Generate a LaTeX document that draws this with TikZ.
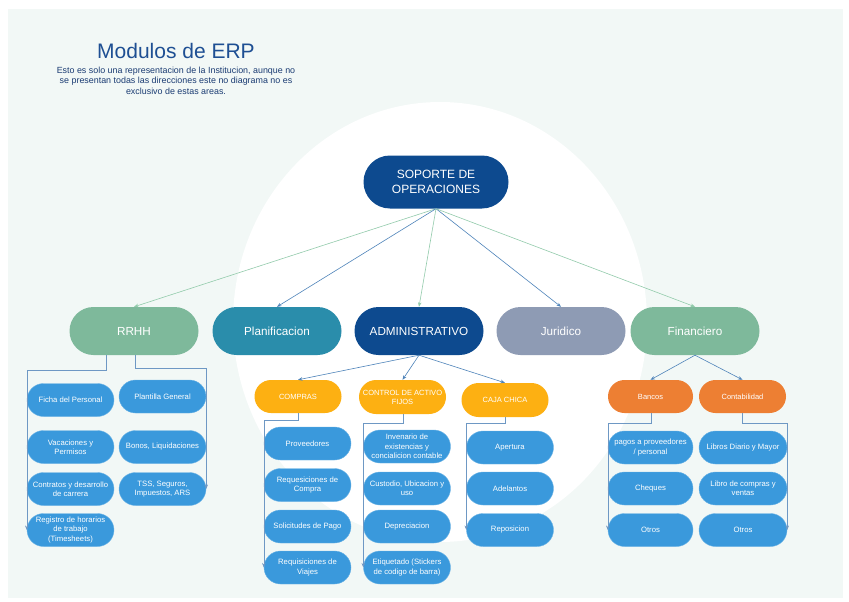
\documentclass[tikz,border=0pt]{standalone}
\usepackage{fontspec}
\setmainfont{Liberation Sans}
\usetikzlibrary{arrows.meta}

\definecolor{panel}{HTML}{F2F8F6}
\definecolor{navy}{HTML}{0D4A8F}
\definecolor{sage}{HTML}{7EB99B}
\definecolor{teal}{HTML}{2A8DAB}
\definecolor{slate}{HTML}{8E9BB4}
\definecolor{amber}{HTML}{FDB012}
\definecolor{orangec}{HTML}{ED7F33}
\definecolor{leafblue}{HTML}{3A99DC}
\definecolor{leafedge}{HTML}{6DB4E6}
\definecolor{linkblue}{HTML}{4F84BA}
\definecolor{linkgreen}{HTML}{92CBAB}
\definecolor{elbow}{HTML}{6E98C4}
\definecolor{titleblue}{HTML}{1E4F93}
\definecolor{subblue}{HTML}{1B3C73}

\tikzset{
  box/.style={rectangle, inner sep=0pt, align=center, text=white},
  head/.style={box, fill=navy, minimum width=145pt, minimum height=53pt,
    rounded corners=26.5pt, font=\fontsize{12}{15}\selectfont},
  area/.style={box, fill=#1, minimum width=129pt, minimum height=48pt,
    rounded corners=24pt, font=\fontsize{11.7}{13}\selectfont},
  sub/.style={box, fill=#1, minimum width=87pt, minimum height=33pt,
    rounded corners=16.5pt, font=\fontsize{7.5}{9}\selectfont},
  leaf/.style={box, fill=leafblue, draw=leafedge, line width=0.4pt,
    minimum width=87pt, minimum height=33pt, rounded corners=16.5pt,
    font=\fontsize{7.7}{9.3}\selectfont},
  tip/.style={-{Stealth[length=4.5pt,width=3.5pt]}},
  linkb/.style={tip, draw=linkblue, line width=0.6pt},
  linkg/.style={tip, draw=linkgreen, line width=0.6pt},
  elbowline/.style={-{Stealth[length=4.5pt,width=3.5pt]}, draw=elbow, line width=0.6pt},
}

\begin{document}
\begin{tikzpicture}[x=1pt,y=-1pt]
\useasboundingbox (0,0) rectangle (849,602);
\fill[white] (0,0) rectangle (849,602);
\fill[panel] (8,9) rectangle (843,598);
\fill[white] (440,322) ellipse[x radius=207, y radius=220];

% title block
\node[font=\fontsize{21}{24}\selectfont, text=titleblue] (title) at (176,51) {Modulos de ERP};
\node[font=\fontsize{8.9}{10.5}\selectfont, text=subblue, align=center] (note) at (176,80.5)
  {Esto es solo una representacion de la Institucion, aunque no\\
   se presentan todas las direcciones este no diagrama no es\\
   exclusivo de estas areas.};

% root
\node[head] (sop) at (436,182) {SOPORTE DE\\OPERACIONES};

% areas
\node[area=sage]  (rrhh)  at (134,331) {RRHH};
\node[area=teal]  (plan)  at (277,331) {Planificacion};
\node[area=navy]  (admin) at (419,331) {ADMINISTRATIVO};
\node[area=slate] (jur)   at (561,331) {Juridico};
\node[area=sage]  (fin)   at (695,331) {Financiero};

\draw[linkg] (sop.south) -- (rrhh.north);
\draw[linkb] (sop.south) -- (plan.north);
\draw[linkg] (sop.south) -- (admin.north);
\draw[linkb] (sop.south) -- (jur.north);
\draw[linkg] (sop.south) -- (fin.north);

% administrative and financial units
\node[sub=amber] (compras) at (298,396.5) {COMPRAS};
\node[sub=amber, minimum height=34pt, rounded corners=17pt] (control) at (402.5,397) {CONTROL DE ACTIVO\\FIJOS};
\node[sub=amber, minimum height=34pt, rounded corners=17pt] (caja) at (505,400) {CAJA CHICA};
\node[sub=orangec, minimum width=85pt] (bancos) at (650.5,396.5) {Bancos};
\node[sub=orangec] (contab) at (742.5,396.5) {Contabilidad};

\draw[linkb] (admin.south) -- (compras.north);
\draw[linkb] (admin.south) -- (control.north);
\draw[linkb] (admin.south) -- (caja.north);
\draw[linkb] (fin.south) -- (bancos.north);
\draw[linkb] (fin.south) -- (contab.north);

% RRHH items
\node[leaf] (ficha)  at (70.5,400)   {Ficha del Personal};
\node[leaf] (vac)    at (70.5,447)   {Vacaciones y\\Permisos};
\node[leaf] (contr)  at (70.5,489)   {Contratos y desarrollo\\de carrera};
\node[leaf] (reg)    at (70.5,530)   {Registro de horarios\\de trabajo\\(Timesheets)};
\node[leaf] (plant)  at (162.5,396.5) {Plantilla General};
\node[leaf] (bonos)  at (162.5,447)  {Bonos, Liquidaciones};
\node[leaf] (tss)    at (162.5,489)  {TSS, Seguros,\\Impuestos, ARS};

\draw[elbowline] ([xshift=-28pt]rrhh.south) -- ++(0,15) -| (reg.west);
\draw[elbowline] ([xshift=1pt]rrhh.south) -- ++(0,13) -| (tss.east);

% COMPRAS items
\node[leaf] (prov)   at (307.5,443.5) {Proveedores};
\node[leaf] (reqc)   at (307.5,485)   {Requesiciones de\\Compra};
\node[leaf] (solp)   at (307.5,526.5) {Solicitudes de Pago};
\node[leaf] (reqv)   at (307.5,567.5) {Requisiciones de\\Viajes};
\draw[elbowline] (compras.south) -- ++(0,7) -| (reqv.west);

% CONTROL DE ACTIVO FIJOS items
\node[leaf] (inv)    at (407,446.5) {Invenario de\\existencias y\\concialicion contable};
\node[leaf] (cust)   at (407,488.5) {Custodio, Ubicacion y\\uso};
\node[leaf] (depr)   at (407,526.5) {Depreciacion};
\node[leaf] (etiq)   at (407,567.5) {Etiquetado (Stickers\\de codigo de barra)};
\draw[elbowline] ([xshift=1pt]control.south) -- ++(0,9) -| (etiq.west);

% CAJA CHICA items
\node[leaf] (aper)   at (510,447.5) {Apertura};
\node[leaf] (adel)   at (510,488.5) {Adelantos};
\node[leaf] (repo)   at (510,530)   {Reposicion};
\draw[elbowline] (caja.south) -- ++(0,6) -| (repo.west);

% Bancos items
\node[leaf, minimum width=85pt] (pagos) at (650.5,447.5) {pagos a proveedores\\/ personal};
\node[leaf, minimum width=85pt] (cheq)  at (650.5,488.5) {Cheques};
\node[leaf, minimum width=85pt] (otrb)  at (650.5,530)   {Otros};
\draw[elbowline] ([xshift=1pt]bancos.south) -- ++(0,10) -| (otrb.west);

% Contabilidad items
\node[leaf, minimum width=88pt] (libd)  at (743,447.5) {Libros Diario y Mayor};
\node[leaf, minimum width=88pt] (libc)  at (743,488.5) {Libro de compras y\\ventas};
\node[leaf, minimum width=88pt] (otrc)  at (743,530)   {Otros};
\draw[elbowline] (contab.south) -- ++(0,10) -| (otrc.east);
\end{tikzpicture}
\end{document}
